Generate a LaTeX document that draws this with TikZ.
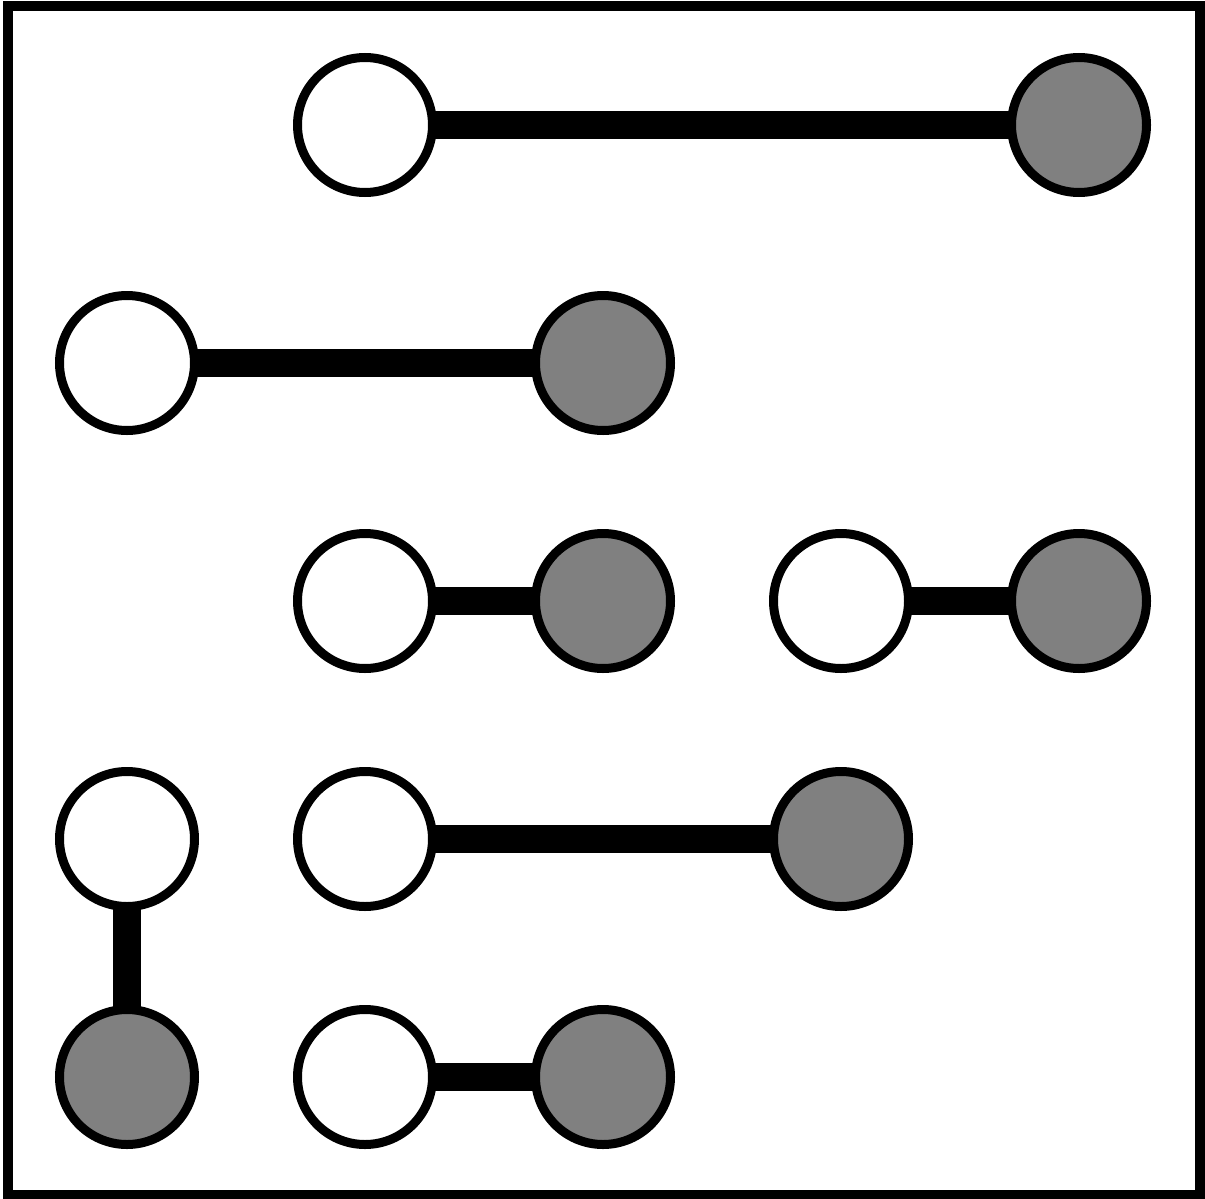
\documentclass[tikz,border=0pt]{standalone}
\usetikzlibrary{backgrounds}
\begin{document}
\begin{tikzpicture}[x=0.5pt,y=-0.5pt,
  wnode/.style={circle,draw=black,line width=4.5pt,fill=white,minimum size=67.5pt,inner sep=0pt},
  gnode/.style={circle,draw=black,line width=4.5pt,fill=gray,minimum size=67.5pt,inner sep=0pt},
  link/.style={line width=14pt,draw=black}]
\useasboundingbox (0,0) rectangle (1205,1199);
\draw[line width=5pt] (8,5.5) rectangle (1199.5,1194.5);
% row 1
\node[wnode] (a1) at (365,125) {};
\node[gnode] (b1) at (1079,125) {};
% row 2
\node[wnode] (a2) at (127,363) {};
\node[gnode] (b2) at (603,363) {};
% row 3
\node[wnode] (a3) at (365,601) {};
\node[gnode] (b3) at (603,601) {};
\node[wnode] (a4) at (841,601) {};
\node[gnode] (b4) at (1079,601) {};
% row 4
\node[wnode] (a5) at (127,839) {};
\node[wnode] (a6) at (365,839) {};
\node[gnode] (b6) at (841,839) {};
% row 5
\node[gnode] (b5) at (127,1077) {};
\node[wnode] (a7) at (365,1077) {};
\node[gnode] (b7) at (603,1077) {};
\begin{scope}[on background layer]
\draw[link] (a1.center) -- (b1.center);
\draw[link] (a2.center) -- (b2.center);
\draw[link] (a3.center) -- (b3.center);
\draw[link] (a4.center) -- (b4.center);
\draw[link] (a5.center) -- (b5.center);
\draw[link] (a6.center) -- (b6.center);
\draw[link] (a7.center) -- (b7.center);
\end{scope}
\end{tikzpicture}
\end{document}
